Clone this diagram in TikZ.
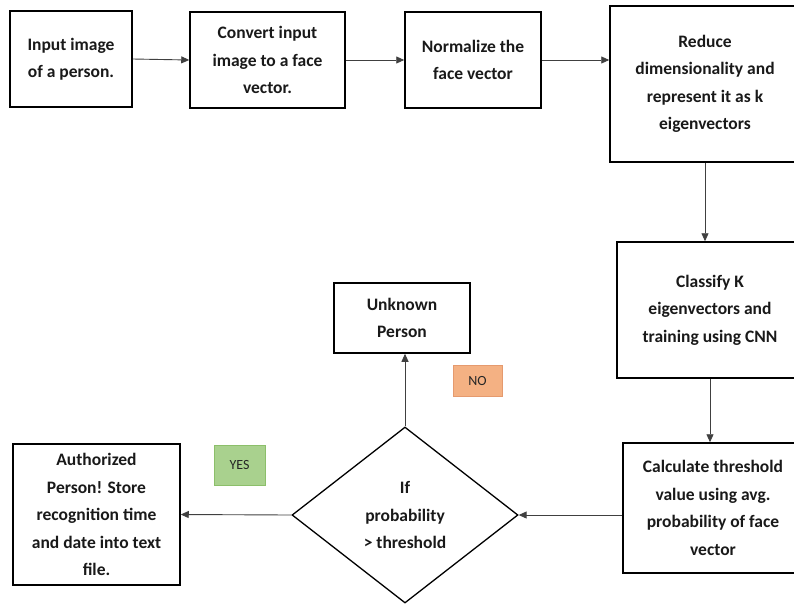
\documentclass[tikz,border=0pt]{standalone}
\usepackage{fontspec}
\setmainfont{Carlito}
\usetikzlibrary{arrows.meta,shapes.geometric,positioning}
\definecolor{yesgreen}{HTML}{A9D18E}
\definecolor{yesedge}{HTML}{8CBF6A}
\definecolor{nosalmon}{HTML}{F4B183}
\definecolor{noedge}{HTML}{E59A6E}
\tikzset{
  blok/.style={draw=black,line width=1.5pt,align=center,inner sep=0pt,
    font=\bfseries\fontsize{17.5}{27.5}\selectfont,text=black!90},
  keuze/.style={blok,diamond,line width=1.3pt,minimum width=226pt,minimum height=176pt},
  tag/.style={line width=0.8pt,inner sep=0pt,font=\fontsize{14}{16}\selectfont,text=black!85},
  pijl/.style={draw=black!75,line width=0.9pt,-{Triangle[length=8pt,width=7pt]}}
}

\begin{document}
\begin{tikzpicture}[x=1pt,y=-1pt]
\useasboundingbox (0,0) rectangle (794,603);
\clip (0,0) rectangle (794,603);

% top row
\node[blok,minimum width=122pt,minimum height=96pt] (inp) at (71,59) {Input image\\of a person.};
\node[blok,minimum width=155pt,minimum height=96pt] (conv) at (267.5,60) {Convert input\\image to a face\\vector.};
\node[blok,minimum width=136pt,minimum height=96pt] (norm) at (473,60) {Normalize the\\face vector};
\node[blok,minimum width=190pt,minimum height=156pt] (red) at (705,84) {Reduce\\dimensionality and\\represent it as k\\eigenvectors};

% right column
\node[blok,minimum width=186pt,minimum height=136pt] (cls) at (710,310) {Classify K\\eigenvectors and\\training using CNN};
\node[blok,minimum width=180pt,minimum height=130pt] (thr) at (713,508) {Calculate threshold\\value using avg.\\probability of face\\vector};

% decision
\node[keuze] (dec) at (405,515) {If\\probability\\> threshold};
\node[blok,minimum width=136pt,minimum height=70pt] (unk) at (402,318) {Unknown\\Person};
\node[blok,minimum width=167pt,minimum height=141pt] (auth) at (96.5,514.5) {Authorized\\Person! Store\\recognition time\\and date into text\\file.};

\node[tag,draw=yesedge,fill=yesgreen,minimum width=51pt,minimum height=40pt] (yes) at (239.5,465) {YES};
\node[tag,draw=noedge,fill=nosalmon,minimum width=49pt,minimum height=31pt] (no) at (477.5,380.5) {NO};

\draw[pijl] (inp.east) -- (conv.west);
\draw[pijl] (conv.east) -- (norm.west);
\draw[pijl] (norm.east) -- (norm.east -| red.west);
\draw[pijl] (red.south) -- (red.south |- cls.north);
\draw[pijl] (cls.south) -- (cls.south |- thr.north);
\draw[pijl] (thr.west |- dec.east) -- (dec.east);
\draw[pijl] (dec.north) -- (dec.north |- unk.south);
\draw[pijl] (dec.west) -- (auth.east);

\end{tikzpicture}
\end{document}
